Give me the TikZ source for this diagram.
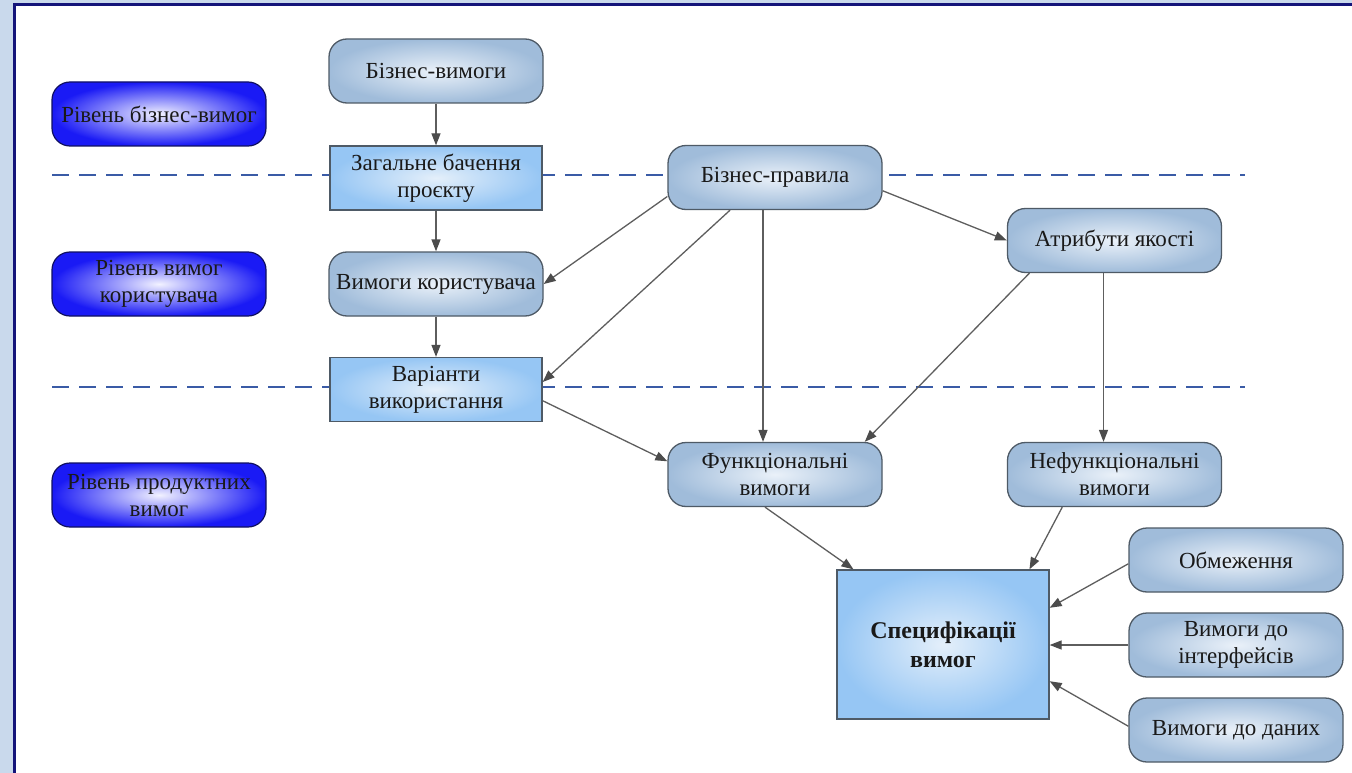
\documentclass[tikz,border=0pt]{standalone}
\usepackage{fontspec}
\setmainfont{Liberation Serif}
\usetikzlibrary{arrows.meta,calc}
\definecolor{framebg}{HTML}{C9D9EC}
\definecolor{navy}{HTML}{14147A}
\definecolor{lvlout}{HTML}{1A1AF5}
\definecolor{lvlin}{HTML}{F2F2FF}
\definecolor{procout}{HTML}{A0BCDA}
\definecolor{procin}{HTML}{EAF1F9}
\definecolor{rectout}{HTML}{96C6F4}
\definecolor{rectin}{HTML}{E4EFFA}
\definecolor{edgegray}{HTML}{4E5A66}
\definecolor{linegray}{HTML}{5E5E5E}
\definecolor{dashblue}{HTML}{3A5BA6}
\begin{document}
\begin{tikzpicture}[x=1pt,y=-1pt,
  txt/.style={font=\fontsize{23}{27}\selectfont, align=center, text=black!90, inner sep=0pt},
  lvl/.style={txt, rounded corners=18pt, draw=navy!80!black, line width=1.2pt,
    shading=radial, inner color=lvlin, outer color=lvlout,
    minimum width=214, minimum height=64},
  proc/.style={txt, rounded corners=18pt, draw=edgegray, line width=1.3pt,
    shading=radial, inner color=procin, outer color=procout,
    minimum width=214, minimum height=64},
  pbox/.style={txt, draw=edgegray, line width=1.3pt,
    shading=radial, inner color=rectin, outer color=rectout,
    minimum width=212, minimum height=64},
  link/.style={draw=linegray, line width=1.3pt,
    -{Triangle[length=12pt,width=9pt,fill=black!70,color=black!70]}},
  level/.style={draw=dashblue, line width=2.6pt, dash pattern=on 17pt off 10pt}
]
\useasboundingbox (0,0) rectangle (1352,773);

% page frame
\fill[framebg] (0,0) rectangle (1352,773);
\fill[white] (15,5) rectangle (1352,773);
\draw[navy, line width=3pt] (14.5,773) -- (14.5,4.5) -- (1352,4.5);

% dashed level separators
\coordinate (s1a) at (52,175);
\coordinate (s1b) at (1245,175);
\coordinate (s2a) at (52,387);
\coordinate (s2b) at (1245,387);
\draw[level] (s1a) -- (s1b);
\draw[level] (s2a) -- (s2b);

% level labels
\node[lvl] (lv1) at (159,114) {Рівень бізнес-вимог};
\node[lvl] (lv2) at (159,284) {Рівень вимог\\користувача};
\node[lvl] (lv3) at (159,495) {Рівень продуктних\\вимог};

% requirement nodes
\node[proc] (bv)  at (436,71)    {Бізнес-вимоги};
\node[pbox] (zag) at (436,178)   {Загальне бачення\\проєкту};
\node[proc] (vk)  at (436,284)   {Вимоги користувача};
\node[pbox] (var) at (436,389.5) {Варіанти\\використання};
\node[proc] (bp)  at (775,177.5) {Бізнес-правила};
\node[proc] (atr) at (1114.5,240.5) {Атрибути якості};
\node[proc] (fun) at (775,474.5) {Функціональні\\вимоги};
\node[proc] (nf)  at (1114.5,474.5) {Нефункціональні\\вимоги};
\node[pbox, minimum width=212, minimum height=149,
      font=\fontsize{24}{29}\selectfont\bfseries] (spec) at (943,644.5) {Специфікації\\вимог};
\node[proc] (obm) at (1236,560)  {Обмеження};
\node[proc] (int) at (1236,645)  {Вимоги до\\інтерфейсів};
\node[proc] (dan) at (1236,730)  {Вимоги до даних};

% connectors
\draw[link] (bv.south) -- (zag.north);
\draw[link] (zag.south) -- (vk.north);
\draw[link] (vk.south) -- (var.north);
\draw[link] (bp.190) -- (vk.east);
\draw[link] (bp.216) -- (var.4);
\draw[link] ([xshift=-12pt]bp.south) -- ([xshift=-12pt]fun.north);
\draw[link] (bp.-7) -- (atr.west);
\draw[link] (atr.201) -- (fun.20);
\draw[link] ([xshift=-11pt]atr.south) -- ([xshift=-11pt]nf.north);
\draw[link] (var.-6) -- (fun.173);
\draw[link] (fun.253) -- (spec.140);
\draw[link] (nf.212) -- (spec.41);
\draw[link] (obm.182) -- (spec.19);
\draw[link] (int.west) -- (int.west -| spec.east);
\draw[link] (dan.178) -- (spec.-19);
\end{tikzpicture}
\end{document}
